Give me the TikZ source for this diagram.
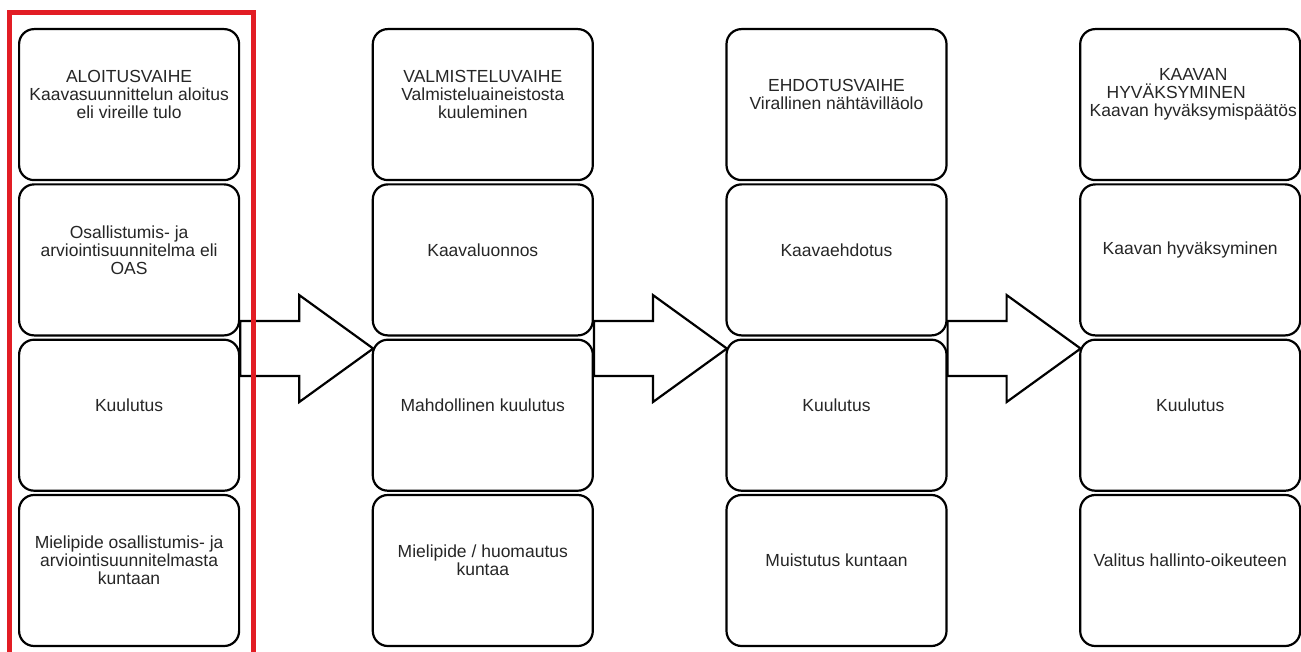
\documentclass[tikz,border=0pt]{standalone}
\usepackage{fontspec}
\setmainfont{Liberation Sans}
\usetikzlibrary{calc}
\definecolor{framered}{RGB}{226,29,36}
\begin{document}
\begin{tikzpicture}[x=1pt,y=-1pt,
  box/.style={draw=black, line width=2.2pt, rounded corners=15pt, fill=white,
    minimum width=220pt, minimum height=151pt, inner sep=0pt, anchor=north west},
  lbl/.style={align=center, font=\fontsize{17.5}{18}\selectfont, text=black!85, inner sep=0pt},
  blockarrow/.style={draw=black, line width=2.2pt, fill=white, line join=miter},
  redframe/.style={draw=framered, line width=5pt, line join=miter}]
\useasboundingbox (0,0) rectangle (1301,652);

% boxes
\foreach \c in {0,1,2,3}{
  \foreach \r in {0,1,2,3}{
    \node[box] (b\c\r) at ({18+353.7*\c},{28+155.3*\r}) {};
  }
}

% labels
\node[lbl] (t00) at ([yshift=10pt]b00.center) {ALOITUSVAIHE\\Kaavasuunnittelun aloitus\\eli vireille tulo};
\node[lbl] (t01) at ([yshift=10pt]b01.center) {Osallistumis- ja\\arviointisuunnitelma eli\\OAS};
\node[lbl] (t02) at ([yshift=10pt]b02.center) {Kuulutus};
\node[lbl] (t03) at ([yshift=10pt]b03.center) {Mielipide osallistumis- ja\\arviointisuunnitelmasta\\kuntaan};

\node[lbl] (t10) at ([yshift=10pt]b10.center) {VALMISTELUVAIHE\\Valmisteluaineistosta\\kuuleminen};
\node[lbl] (t11) at ([yshift=10pt]b11.center) {Kaavaluonnos};
\node[lbl] (t12) at ([yshift=10pt]b12.center) {Mahdollinen kuulutus};
\node[lbl] (t13) at ([yshift=10pt]b13.center) {Mielipide / huomautus\\kuntaa};

\node[lbl] (t20) at ([yshift=10pt]b20.center) {EHDOTUSVAIHE\\Virallinen nähtävilläolo};
\node[lbl] (t21) at ([yshift=10pt]b21.center) {Kaavaehdotus};
\node[lbl] (t22) at ([yshift=10pt]b22.center) {Kuulutus};
\node[lbl] (t23) at ([yshift=10pt]b23.center) {Muistutus kuntaan};

\node[lbl] (t30) at ([yshift=10pt,xshift=3pt]b30.center) {KAAVAN\\HYVÄKSYMINEN\hspace*{34pt}\mbox{}\\Kaavan hyväksymispäätös};
\node[lbl] (t31) at ([yshift=10pt]b31.center) {Kaavan hyväksyminen};
\node[lbl] (t32) at ([yshift=10pt]b32.center) {Kuulutus};
\node[lbl] (t33) at ([yshift=10pt]b33.center) {Valitus hallinto-oikeuteen};

% block arrows between the phases
\foreach \c in {0,1,2}{
  \coordinate (a\c) at ([yshift=-11pt]$(b\c1.south east)!0.5!(b\c2.north east)$);
  \draw[blockarrow] (a\c) ++(0,-27.5) -- ++(59,0) -- ++(0,-26) -- ++(74,53.5)
    -- ++(-74,53.5) -- ++(0,-26) -- ++(-59,0) -- cycle;
}

% red highlight frame around the first phase
\draw[redframe] (9.5,652) -- (9.5,12.5) -- (253,12.5) -- (253,652);
\end{tikzpicture}
\end{document}
